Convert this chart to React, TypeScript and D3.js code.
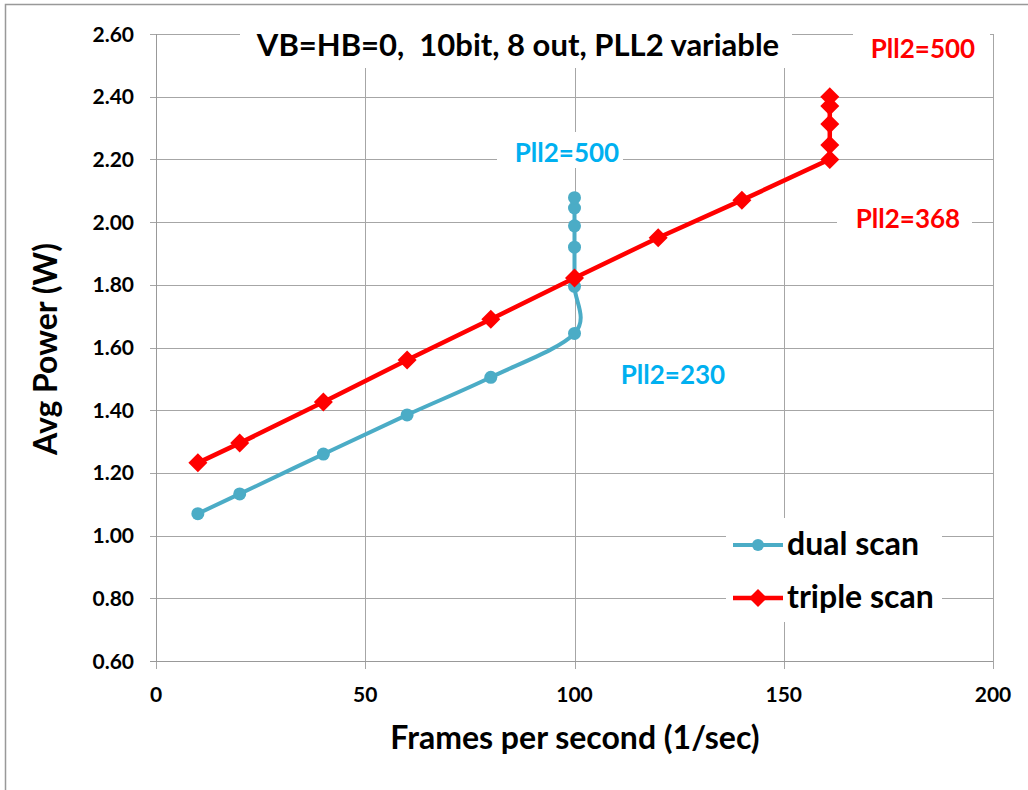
import * as d3 from "d3";

const xTicks = [0, 50, 100, 150, 200];
const yTicks = [0.6, 0.8, 1.0, 1.2, 1.4, 1.6, 1.8, 2.0, 2.2, 2.4, 2.6];

// dual scan (Pll2 230 -> 500 at 100 fps)
const dualFps = [10, 20, 40, 60, 80, 100, 100, 100, 100, 100, 100];
const dualPower = [1.07, 1.133, 1.26, 1.385, 1.505, 1.645, 1.795, 1.92, 1.988, 2.045, 2.078];

// triple scan (Pll2 368 -> 500 at 161 fps)
const tripleFps = [10, 20, 40, 60, 80, 100, 120, 140, 161, 161, 161, 161, 161];
const triplePower = [1.232, 1.295, 1.426, 1.56, 1.69, 1.822, 1.95, 2.07, 2.2, 2.246, 2.313, 2.37, 2.4];

const FONT = "Lato, 'Open Sans', sans-serif";
const BLUE = "#4BACC6";
const LABEL_BLUE = "#00B0F0";
const RED = "#FF0000";
const GRID = "#A6A6A6";

export default function App() {
  const x = d3.scaleLinear().domain([0, 200]).range([156, 993]);
  const y = d3.scaleLinear().domain([0.6, 2.6]).range([661, 34]);

  const dual = dualFps.map((f, i) => [x(f), y(dualPower[i])] as [number, number]);
  const triple = tripleFps.map((f, i) => [x(f), y(triplePower[i])] as [number, number]);

  const smooth = d3.line().curve(d3.curveCardinal.tension(0));
  const straight = d3.line();
  const diamond = (cx: number, cy: number, r: number) =>
    `M${cx},${cy - r}L${cx + r},${cy}L${cx},${cy + r}L${cx - r},${cy}Z`;

  // white boxes behind text (they hide gridlines, as in the original)
  const boxes = [
    [240, 18, 552, 50],
    [853, 20, 137, 50],
    [497, 132, 126, 36],
    [837, 198, 135, 46],
    [602, 350, 143, 50],
    [726, 518, 216, 104],
  ];

  return (
    <svg
      width={1028}
      height={790}
      style={{ position: "absolute", left: 0, top: 0, background: "#fff" }}
      fontFamily={FONT}
    >
      <rect x={5.5} y={4.5} width={1100} height={900} fill="#fff" stroke="#999" strokeWidth={1.5} />

      {/* gridlines */}
      {yTicks.map((t) => (
        <line key={"gy" + t} x1={150} x2={993} y1={Math.round(y(t)) + 0.5} y2={Math.round(y(t)) + 0.5} stroke={GRID} />
      ))}
      {xTicks.map((t) => (
        <line key={"gx" + t} x1={Math.round(x(t)) + 0.5} x2={Math.round(x(t)) + 0.5} y1={34} y2={669} stroke={GRID} />
      ))}
      {boxes.map((b, i) => (
        <rect key={"b" + i} x={b[0]} y={b[1]} width={b[2]} height={b[3]} fill="#fff" />
      ))}
      {/* axes */}
      <line x1={156.5} x2={156.5} y1={34} y2={661} stroke="#999" />
      <line x1={150} x2={993} y1={661.5} y2={661.5} stroke="#999" />

      {/* tick labels */}
      {yTicks.map((t) => (
        <text key={"ty" + t} x={134} y={y(t)} dy="0.36em" textAnchor="end" fontSize={21} fontWeight={700}>
          {t.toFixed(2)}
        </text>
      ))}
      {xTicks.map((t) => (
        <text key={"tx" + t} x={x(t)} y={702} textAnchor="middle" fontSize={21} fontWeight={700}>
          {t}
        </text>
      ))}

      {/* axis titles */}
      <text x={575} y={749} textAnchor="middle" fontSize={32} fontWeight={700}>
        Frames per second (1/sec)
      </text>
      <text transform="translate(57,349) rotate(-90)" textAnchor="middle" fontSize={32} fontWeight={700}>
        Avg Power (W)
      </text>

      {/* series */}
      <path d={smooth(dual) || ""} fill="none" stroke={BLUE} strokeWidth={4} />
      {dual.map((p, i) => (
        <circle key={"d" + i} cx={p[0]} cy={p[1]} r={6.5} fill={BLUE} />
      ))}
      <path d={straight(triple) || ""} fill="none" stroke={RED} strokeWidth={4.5} />
      {triple.map((p, i) => (
        <path key={"t" + i} d={diamond(p[0], p[1], 9.5)} fill={RED} />
      ))}

      {/* title and annotations */}
      <text x={518} y={56} textAnchor="middle" fontSize={31} fontWeight={700} style={{ whiteSpace: "pre" }}>
        {"VB=HB=0,  10bit, 8 out, PLL2 variable"}
      </text>
      <text x={923} y={58} textAnchor="middle" fontSize={26} fontWeight={700} fill={RED}>
        Pll2=500
      </text>
      <text x={567} y={162} textAnchor="middle" fontSize={26} fontWeight={700} fill={LABEL_BLUE}>
        Pll2=500
      </text>
      <text x={908} y={228} textAnchor="middle" fontSize={26} fontWeight={700} fill={RED}>
        Pll2=368
      </text>
      <text x={673} y={384} textAnchor="middle" fontSize={26} fontWeight={700} fill={LABEL_BLUE}>
        Pll2=230
      </text>

      {/* legend */}
      <line x1={733} x2={783} y1={545} y2={545} stroke={BLUE} strokeWidth={4} />
      <circle cx={758} cy={545} r={6} fill={BLUE} />
      <text x={787} y={555} fontSize={32} fontWeight={700}>
        dual scan
      </text>
      <line x1={733} x2={783} y1={598} y2={598} stroke={RED} strokeWidth={4.5} />
      <path d={diamond(758, 598, 9)} fill={RED} />
      <text x={787} y={608} fontSize={32} fontWeight={700}>
        triple scan
      </text>
    </svg>
  );
}
